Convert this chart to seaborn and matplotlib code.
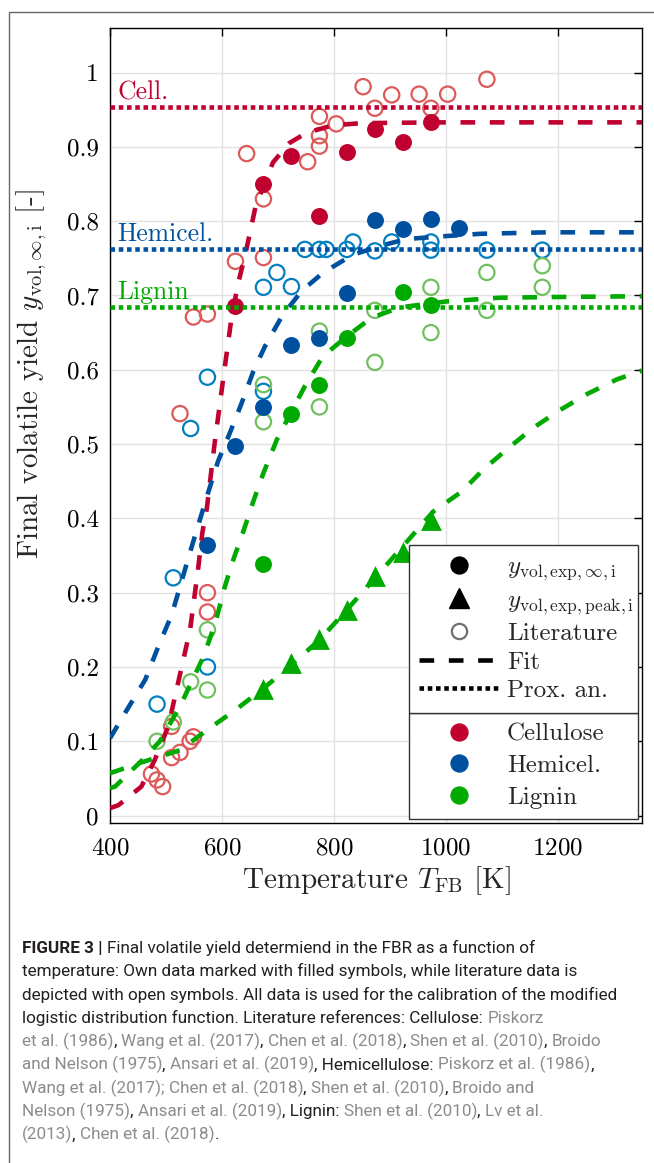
import matplotlib
matplotlib.use("Agg")
import matplotlib.pyplot as plt
import matplotlib.ticker as mticker
import seaborn as sns
from matplotlib.lines import Line2D
from matplotlib.patches import Rectangle

# ---- data ----
# cellulose
cell_lit_T = [474, 484, 494, 510, 510, 525, 543, 549, 574, 574, 525, 549, 574, 624, 674, 674, 644,
              753, 774, 774, 774, 804, 852, 873, 903, 952, 973, 1003, 1073]
cell_lit_y = [0.056, 0.048, 0.039, 0.078, 0.120, 0.085, 0.100, 0.106, 0.274, 0.300, 0.541, 0.671, 0.675,
              0.746, 0.751, 0.830, 0.891, 0.880, 0.901, 0.915, 0.941, 0.931, 0.981, 0.952, 0.970, 0.971,
              0.952, 0.971, 0.991]
cell_own_T = [623, 674, 724, 774, 823, 873, 923, 973]
cell_own_y = [0.686, 0.850, 0.888, 0.807, 0.893, 0.924, 0.907, 0.934]
cell_fit_T = [400, 415, 456, 480, 504, 528, 543, 557, 565, 573, 587, 602, 617, 629, 641, 660, 691,
              720, 751, 798, 850, 1000, 1350]
cell_fit_y = [0.010, 0.014, 0.039, 0.075, 0.120, 0.200, 0.250, 0.330, 0.381, 0.414, 0.502, 0.587,
              0.670, 0.717, 0.753, 0.820, 0.879, 0.905, 0.919, 0.929, 0.932, 0.933, 0.933]
cell_prox = 0.953

# hemicellulose
hemi_lit_T = [484, 513, 544, 574, 574, 674, 674, 698, 724, 748, 774, 786, 823, 834, 873, 903, 973,
              973, 1073, 1172]
hemi_lit_y = [0.150, 0.320, 0.521, 0.590, 0.200, 0.711, 0.571, 0.731, 0.712, 0.762, 0.762, 0.762,
              0.762, 0.772, 0.760, 0.772, 0.772, 0.761, 0.761, 0.761]
hemi_own_T = [574, 623, 674, 724, 774, 823, 873, 923, 973, 1023]
hemi_own_y = [0.364, 0.497, 0.550, 0.634, 0.643, 0.704, 0.802, 0.790, 0.803, 0.791]
hemi_fit_T = [400, 430, 463, 486, 510, 525, 540, 558, 575, 593, 614, 635, 656, 677, 707, 742, 781,
              834, 894, 930, 1001, 1061, 1180, 1350]
hemi_fit_y = [0.104, 0.142, 0.183, 0.227, 0.270, 0.308, 0.347, 0.392, 0.434, 0.477, 0.515, 0.555,
              0.598, 0.632, 0.672, 0.706, 0.731, 0.755, 0.769, 0.776, 0.780, 0.783, 0.785, 0.785]
hemi_prox = 0.762

# lignin
lig_lit_T = [484, 513, 544, 574, 574, 674, 674, 774, 774, 873, 873, 973, 973, 1073, 1073, 1172, 1172]
lig_lit_y = [0.100, 0.126, 0.180, 0.169, 0.250, 0.530, 0.580, 0.550, 0.652, 0.610, 0.680, 0.650,
             0.711, 0.680, 0.731, 0.711, 0.740]
lig_own_T = [674, 724, 774, 823, 923, 973]
lig_own_y = [0.339, 0.541, 0.579, 0.643, 0.705, 0.687]
lig_peak_T = [674, 724, 774, 823, 873, 923, 973]
lig_peak_y = [0.171, 0.205, 0.237, 0.277, 0.322, 0.355, 0.398]
lig_fit_T = [400, 409, 458, 489, 525, 567, 588, 605, 620, 637, 656, 674, 698, 748, 780, 823, 867,
             918, 1001, 1096, 1204, 1350]
lig_fit_y = [0.037, 0.039, 0.075, 0.100, 0.147, 0.214, 0.259, 0.308, 0.344, 0.380, 0.423, 0.461,
             0.506, 0.578, 0.618, 0.645, 0.670, 0.684, 0.692, 0.697, 0.698, 0.699]
lig_peakfit_T = [400, 458, 525, 573, 620, 674, 727, 775, 823, 876, 977, 1028, 1067, 1112, 1156, 1204,
                 1251, 1305, 1350]
lig_peakfit_y = [0.057, 0.072, 0.088, 0.115, 0.140, 0.171, 0.205, 0.237, 0.277, 0.322, 0.409, 0.436,
                 0.466, 0.495, 0.522, 0.546, 0.567, 0.587, 0.599]
lig_prox = 0.684

# colours
c_cell, c_cell_lit = "#c0002f", "#dc5a5a"
c_hemi, c_hemi_lit = "#0050a0", "#0080c0"
c_lig, c_lig_lit = "#00aa00", "#70c060"

sns.set_theme(style="whitegrid")
plt.rcParams.update({
    "font.family": "serif",
    "font.serif": ["cmr10"],
    "mathtext.fontset": "cm",
    "axes.formatter.use_mathtext": True,
    "axes.unicode_minus": False,
    "axes.edgecolor": "black",
    "axes.linewidth": 1.0,
    "grid.color": "#e2e2e2",
    "grid.linewidth": 1.0,
})

fig = plt.figure(figsize=(6.54, 11.63), dpi=100)
ax = fig.add_axes([110 / 654, 1 - 823 / 1163, 532 / 654, 795 / 1163])

DASH = (0, (3.2, 3.2))
DOT = (0, (1.0, 0.8))
lw = 3.3

# literature (open) and own data (filled)
for T, y, col in [(cell_lit_T, cell_lit_y, c_cell_lit), (hemi_lit_T, hemi_lit_y, c_hemi_lit),
                  (lig_lit_T, lig_lit_y, c_lig_lit)]:
    sns.scatterplot(x=T, y=y, ax=ax, marker="o", s=11 ** 2, facecolor="none", edgecolor=col,
                    linewidth=1.6, zorder=3)
for T, y, col in [(cell_own_T, cell_own_y, c_cell), (hemi_own_T, hemi_own_y, c_hemi),
                  (lig_own_T, lig_own_y, c_lig)]:
    sns.scatterplot(x=T, y=y, ax=ax, marker="o", s=12.2 ** 2, color=col, linewidth=0, zorder=4)
sns.scatterplot(x=lig_peak_T, y=lig_peak_y, ax=ax, marker="^", s=15 ** 2, color=c_lig, linewidth=0,
                zorder=4)

# fits
for T, y, col in [(cell_fit_T, cell_fit_y, c_cell), (hemi_fit_T, hemi_fit_y, c_hemi),
                  (lig_fit_T, lig_fit_y, c_lig), (lig_peakfit_T, lig_peakfit_y, c_lig)]:
    ax.plot(T, y, color=col, lw=lw, ls=DASH, dash_capstyle="butt", zorder=5)

# proximate analysis
for val, col, name in [(cell_prox, c_cell, "Cell."), (hemi_prox, c_hemi, "Hemicel."),
                       (lig_prox, c_lig, "Lignin")]:
    ax.axhline(val, color=col, lw=lw, ls=DOT, dash_capstyle="butt", zorder=5)
    ax.text(413, val + 0.011, name, color=col, fontsize=18.5, va="baseline", ha="left")

ax.set_xlim(400, 1350)
ax.set_ylim(-0.01, 1.06)
ax.xaxis.set_major_locator(mticker.MultipleLocator(200))
ax.yaxis.set_major_locator(mticker.MultipleLocator(0.1))
ax.yaxis.set_major_formatter(mticker.FuncFormatter(lambda v, p: f"{v:g}"))
ax.tick_params(direction="in", length=6, width=1, top=True, right=True, labelsize=18,
               color="black", labelcolor="black")
ax.tick_params(axis="x", pad=10)
ax.tick_params(axis="y", pad=8)
ax.grid(True)
for s in ax.spines.values():
    s.set_color("black")
    s.set_linewidth(1.0)

ax.set_xlabel(r"Temperature $T_{\mathrm{FB}}$ [K]", fontsize=21, labelpad=4)
ax.set_ylabel(r"Final volatile yield $y_{\mathrm{vol},\infty,\mathrm{i}}$ [-]", fontsize=21)
ax.yaxis.set_label_coords(-0.115, 0.565)

# legend
legkw = dict(fontsize=18, frameon=True, fancybox=False, framealpha=1, edgecolor="#333333",
             borderaxespad=0, mode="expand", handlelength=3.2, handletextpad=0.3,
             borderpad=0.42)
h_bot = [Line2D([], [], marker="o", ls="none", color=c, ms=12.2) for c in (c_cell, c_hemi, c_lig)]
leg2 = ax.legend(h_bot, ["Cellulose", "Hemicel.", "Lignin"], loc="lower left",
                 bbox_to_anchor=(0.562, 0.005, 0.43, 0.1), labelspacing=0.36, **legkw)
leg2.get_frame().set_linewidth(1.0)
ax.add_artist(leg2)
fig.canvas.draw()
r = fig.canvas.get_renderer()
top2 = leg2.get_window_extent(r).transformed(ax.transAxes.inverted()).y1

h_top = [
    Line2D([], [], marker="o", ls="none", color="black", ms=12.2),
    Line2D([], [], marker="^", ls="none", color="black", ms=15),
    Line2D([], [], marker="o", ls="none", mfc="none", mec="#707070", mew=1.6, ms=11),
    Line2D([], [], ls=DASH, lw=lw, color="black", dash_capstyle="butt"),
    Line2D([], [], ls=DOT, lw=lw, color="black", dash_capstyle="butt"),
]
leg1 = ax.legend(h_top, [r"$y_{\mathrm{vol,exp},\infty,\mathrm{i}}$", r"$y_{\mathrm{vol,exp,peak,i}}$",
                         "Literature", "Fit", "Prox. an."],
                 loc="lower left", bbox_to_anchor=(0.562, top2, 0.43, 0.1), labelspacing=0.24,
                 **legkw)
leg1.get_frame().set_linewidth(1.0)
leg1.set_zorder(10)
leg2.set_zorder(10)

# page frame
fig.add_artist(Rectangle((9 / 654, -0.1), 1.2, 1.1 - 12 / 1163, transform=fig.transFigure,
                         fill=False, edgecolor="#666666", lw=1.0))

# caption
K, G = "#231f20", "#8c8c8c"
cap_family = ["Roboto", "Liberation Sans"]
caption = [
    [("FIGURE 3 | ", K, "bold"), ("Final volatile yield determiend in the FBR as a function of", K, "normal")],
    [("temperature: Own data marked with filled symbols, while literature data is", K, "normal")],
    [("depicted with open symbols. All data is used for the calibration of the modified", K, "normal")],
    [("logistic distribution function. Literature references: Cellulose: ", K, "normal"), ("Piskorz", G, "normal")],
    [("et al. (1986)", G, "normal"), (", ", K, "normal"), ("Wang et al. (2017)", G, "normal"), (", ", K, "normal"),
     ("Chen et al. (2018)", G, "normal"), (", ", K, "normal"), ("Shen et al. (2010)", G, "normal"),
     (", ", K, "normal"), ("Broido", G, "normal")],
    [("and Nelson (1975)", G, "normal"), (", ", K, "normal"), ("Ansari et al. (2019)", G, "normal"),
     (", Hemicellulose: ", K, "normal"), ("Piskorz et al. (1986)", G, "normal"), (",", K, "normal")],
    [("Wang et al. (2017); ", G, "normal"), ("Chen et al. (2018)", G, "normal"), (", ", K, "normal"),
     ("Shen et al. (2010)", G, "normal"), (", ", K, "normal"), ("Broido and", G, "normal")],
    [("Nelson (1975)", G, "normal"), (", ", K, "normal"), ("Ansari et al. (2019)", G, "normal"),
     (", Lignin: ", K, "normal"), ("Shen et al. (2010)", G, "normal"), (", ", K, "normal"),
     ("Lv et al.", G, "normal")],
    [("(2013)", G, "normal"), (", ", K, "normal"), ("Chen et al. (2018)", G, "normal"), (".", K, "normal")],
]


def seg_width(txt, size, weight):
    a = fig.text(0, 0, txt + ".", fontsize=size, family=cap_family, weight=weight)
    b = fig.text(0, 0, ".", fontsize=size, family=cap_family, weight=weight)
    w = a.get_window_extent(r).width - b.get_window_extent(r).width
    a.remove()
    b.remove()
    return w


# size chosen so the widest line spans the same width as in the page
ref = sum(seg_width(t, 10, w) for t, c, w in caption[2])
cap_size = 10 * 598 / ref
for i, line in enumerate(caption):
    x = 22
    y = 953 + 23.3 * i
    for t, c, w in line:
        fig.text(x / 654, 1 - y / 1163, t, fontsize=cap_size, family=cap_family, weight=w,
                 color=c, va="baseline", ha="left")
        x += seg_width(t, cap_size, w)

fig.savefig("out.png", dpi=100)
